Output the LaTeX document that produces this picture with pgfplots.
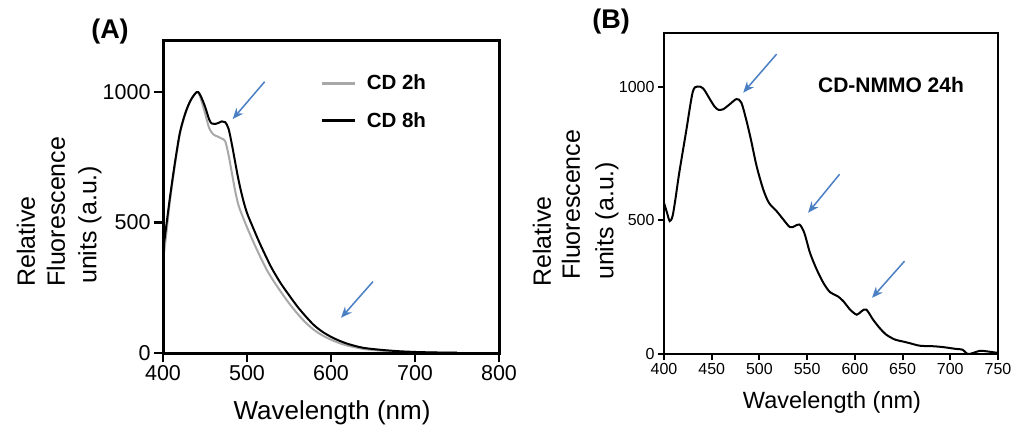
\documentclass[border=0pt]{standalone}
\usepackage{fontspec}
\setmainfont{Liberation Sans}
\usepackage{pgfplots}
\pgfplotsset{compat=1.18}
\usetikzlibrary{arrows.meta}
\definecolor{arrowblue}{HTML}{4A7FC4}
\definecolor{cdgray}{HTML}{A8A8A8}

\pgfplotstableread{
x y
400 350
404 460
408 575
412 672
416 760
420 838
424 890
428 930
432 962
436 985
440 1000
442 998
445 975
450 920
455 862
460 838
465 830
470 822
474 812
478 760
482 690
486 620
490 565
495 522
500 482
507 430
515 374
523 322
530 284
540 236
550 191
560 151
570 116
580 88
590 67
600 51
610 38
620 28
630 21
640 15
660 9
680 5
700 3
725 2
750 1
}\cdtwo

\pgfplotstableread{
x y
400 390
404 490
408 590
412 682
416 767
420 843
424 893
428 933
432 963
436 985
440 1000
442 1000
445 985
450 945
455 895
458 880
462 878
466 882
470 888
474 885
478 860
482 800
486 730
490 662
495 592
500 537
507 482
515 422
523 367
530 322
540 268
550 222
560 178
570 140
580 106
590 81
600 62
610 47
620 35
630 26
640 19
660 12
680 7
700 4
725 2
750 1
}\cdeight

\pgfplotstableread{
x y
400 565
403 530
406 497
409 516
412 580
416 678
423 828
430 978
435 1000
441 993
448 953
453 925
457 913
462 915
469 934
476 953
481 940
486 878
491 803
497 703
504 615
510 565
518 534
525 503
532 474
537 478
542 484
547 453
553 378
560 316
567 266
574 231
582 216
588 197
595 166
602 147
607 160
612 166
619 129
626 97
633 72
642 54
650 47
657 41
668 31
682 29
692 26
706 19
713 16
718 0
724 4
731 12
738 10
750 4
}\nmmo

\begin{document}
\begin{tikzpicture}[x=1pt,y=1pt]
\useasboundingbox (0,0) rectangle (1017,432);
% ---------------- Panel A
\begin{axis}[
  at={(163pt,79pt)}, anchor=south west,
  scale only axis, width=336pt, height=313pt,
  xmin=400, xmax=800, ymin=0, ymax=1200,
  clip=false,
  xtick={400,500,600,700,800}, ytick={0,500,1000},
  tick align=outside, xtick pos=bottom, ytick pos=left,
  major tick length=9pt,
  major tick style={line width=2.5pt, black},
  tick label style={font=\fontsize{21.5}{24}\selectfont},
  /pgf/number format/assume math mode=true,
  /pgf/number format/1000 sep={},
  legend style={at={(0.469,0.895)}, anchor=north west, draw=none, fill=none,
    font=\bfseries\fontsize{20.5}{24}\selectfont, row sep=17pt, inner sep=0pt,
    /tikz/every odd column/.style={column sep=8pt}},
  legend image code/.code={\draw[#1, line width=3pt] (0pt,0pt) -- (33pt,0pt);},
  legend cell align=left,
]
\addplot[cdgray, line width=2pt, smooth] table {\cdtwo};
\addlegendentry{CD 2h}
\addplot[black, line width=2pt, smooth] table {\cdeight};
\addlegendentry{CD 8h}
\draw[arrowblue, line width=1.5pt, -{Stealth[length=11pt,width=9pt]}] (axis cs:521,1040) -- (axis cs:483,897);
\draw[arrowblue, line width=1.5pt, -{Stealth[length=11pt,width=9pt]}] (axis cs:650,274) -- (axis cs:612,135);
\draw[black, line width=3pt] (rel axis cs:0,0) rectangle (rel axis cs:1,1);
\pgfplotsinvokeforeach{400,500,600,700,800}{\draw[black, line width=2.5pt] (axis cs:#1,0) -- ++(0pt,-9pt);}
\pgfplotsinvokeforeach{0,500,1000}{\draw[black, line width=2.5pt] (axis cs:400,#1) -- ++(-9pt,0pt);}
\end{axis}
% ---------------- Panel B
\begin{axis}[
  at={(664pt,78pt)}, anchor=south west,
  scale only axis, width=334pt, height=321pt,
  xmin=400, xmax=750, ymin=0, ymax=1200,
  clip=false,
  xtick={400,450,...,750}, ytick={0,500,1000},
  tick align=outside, xtick pos=bottom, ytick pos=left,
  major tick length=6pt,
  major tick style={line width=2pt, black},
  tick label style={font=\fontsize{16}{18}\selectfont},
  /pgf/number format/assume math mode=true,
  /pgf/number format/1000 sep={},
]
\addplot[black, line width=2pt, smooth] table {\nmmo};
\draw[arrowblue, line width=1.5pt, -{Stealth[length=11pt,width=9pt]}] (axis cs:518,1121) -- (axis cs:483,977);
\draw[arrowblue, line width=1.5pt, -{Stealth[length=11pt,width=9pt]}] (axis cs:584,672) -- (axis cs:551,528);
\draw[arrowblue, line width=1.5pt, -{Stealth[length=11pt,width=9pt]}] (axis cs:652,347) -- (axis cs:618,210);
\draw[black, line width=2.5pt] (rel axis cs:0,0) rectangle (rel axis cs:1,1);
\pgfplotsinvokeforeach{400,450,500,550,600,650,700,750}{\draw[black, line width=2pt] (axis cs:#1,0) -- ++(0pt,-6pt);}
\pgfplotsinvokeforeach{0,500,1000}{\draw[black, line width=2pt] (axis cs:400,#1) -- ++(-6pt,0pt);}
\end{axis}
% ---------------- texts
\node[font=\bfseries\fontsize{27}{30}\selectfont] at (110,400) {(A)};
\node[font=\bfseries\fontsize{27}{30}\selectfont] at (611,410) {(B)};
\node[font=\bfseries\fontsize{21}{24}\selectfont] at (891,347) {CD-NMMO 24h};
\node[font=\fontsize{26}{28}\selectfont] at (332,19.5) {Wavelength (nm)};
\node[font=\fontsize{23.5}{26}\selectfont] at (832,30) {Wavelength (nm)};
\begin{scope}[every node/.style={rotate=90, anchor=west, inner sep=0pt, font=\fontsize{25}{28}\selectfont}]
\node at (26,145) {Relative};
\node at (56,145) {Fluorescence};
\node at (90,148) {units (a.u.)};
\node at (542,145) {Relative};
\node at (571,152) {Fluorescence};
\node at (607,152) {units (a.u.)};
\end{scope}
\end{tikzpicture}
\end{document}
